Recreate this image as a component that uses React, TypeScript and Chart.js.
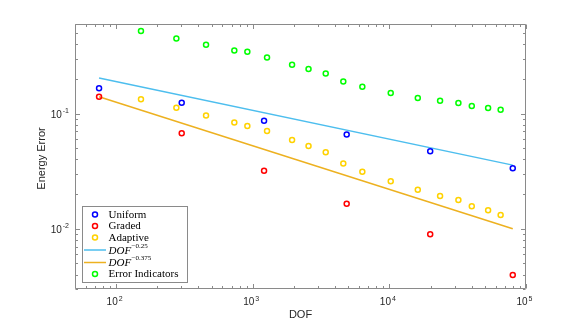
import React, { useEffect, useRef } from 'react';
import { Chart, registerables } from 'chart.js';

Chart.register(...registerables);

// ---------- data ----------
const uniformDOF = [75, 302, 1210, 4870, 19900, 80000];
const uniformErr = [0.166, 0.124, 0.0865, 0.0658, 0.0472, 0.0335];
const gradedDOF = [75, 302, 1210, 4870, 19900, 80000];
const gradedErr = [0.14, 0.0675, 0.0319, 0.0165, 0.00895, 0.00396];
const adaptiveDOF = [152, 276, 455, 733, 913, 1272, 1940, 2560, 3420, 4600, 6340, 10230, 16140, 23500, 32000, 40100, 52800, 65200];
const adaptiveErr = [0.1332, 0.1124, 0.0964, 0.0837, 0.0782, 0.0706, 0.0589, 0.0524, 0.0462, 0.0368, 0.0313, 0.0259, 0.0218, 0.0193, 0.0178, 0.0157, 0.01445, 0.0132];
const indicatorErr = [0.522, 0.45, 0.396, 0.353, 0.345, 0.307, 0.266, 0.244, 0.2234, 0.19, 0.171, 0.1513, 0.1368, 0.1295, 0.1237, 0.1163, 0.1117, 0.108];
const refDOF = [75, 80000];
const ref025 = [0.204, 0.0357];
const ref0375 = [0.14, 0.01];
const xMajorTicks = [100, 1000, 10000, 100000];
const xMajorExp = ['2', '3', '4', '5'];
const yMajorTicks = [0.01, 0.1];
const yMajorExp = ['-2', '-1'];
const legendLabels = ['Uniform', 'Graded', 'Adaptive', 'DOF', 'DOF', 'Error Indicators'];
const legendExps = ['', '', '', '\u22120.25', '\u22120.375', ''];

const X_MIN = 50;
const X_MAX = 100000;
const Y_MIN = 0.003;
const Y_MAX = 0.6;

const C_UNIFORM = '#0000FF';
const C_GRADED = '#FF0000';
const C_ADAPT = '#FFD200';
const C_IND = '#00FF00';
const C_L1 = '#4DBEEE';
const C_L2 = '#EDB120';
const AXIS = '#8a8a8a';
const TEXT = '#262626';
const SANS = '"Liberation Sans", Arial, Helvetica, sans-serif';
const SERIF = '"Liberation Serif", "Times New Roman", serif';

const pts = (xs: number[], ys: number[]) => xs.map((x, i) => ({ x, y: ys[i] }));

function minorValues(min: number, max: number): number[] {
  const out: number[] = [];
  const d0 = Math.floor(Math.log10(min));
  const d1 = Math.ceil(Math.log10(max));
  for (let d = d0; d <= d1; d++) {
    for (let m = 1; m <= 9; m++) {
      const v = m * Math.pow(10, d);
      if (v >= min * 0.9999 && v <= max * 1.0001) out.push(v);
    }
  }
  return out;
}

function drawPow(ctx: CanvasRenderingContext2D, x: number, y: number, exp: string, align: 'center' | 'right') {
  ctx.font = `10px ${SANS}`;
  const wb = ctx.measureText('10').width;
  ctx.font = `7px ${SANS}`;
  const we = ctx.measureText(exp).width;
  const gap = 1;
  const total = wb + gap + we;
  const x0 = align === 'center' ? x - total / 2 : x - total;
  ctx.fillStyle = TEXT;
  ctx.textAlign = 'left';
  ctx.textBaseline = 'alphabetic';
  ctx.font = `10px ${SANS}`;
  ctx.fillText('10', x0, y);
  ctx.font = `7px ${SANS}`;
  ctx.fillText(exp, x0 + wb + gap, y - 4.5);
}

const axesPlugin = {
  id: 'matlabAxes',
  beforeDatasetsDraw(chart: any) {
    const { ctx, chartArea, scales } = chart;
    const { left, right, top, bottom } = chartArea;
    const xs = scales.x;
    const ys = scales.y;
    ctx.save();
    ctx.strokeStyle = AXIS;
    ctx.lineWidth = 1;
    const L = Math.round(left) + 0.5;
    const R = Math.round(right) - 0.5;
    const T = Math.round(top) + 0.5;
    const B = Math.round(bottom) - 0.5;
    ctx.beginPath();
    ctx.rect(L, T, R - L, B - T);
    ctx.stroke();
    const majLen = 4.5;
    const minLen = 2.5;
    ctx.beginPath();
    // x ticks
    const xMinor = minorValues(X_MIN, X_MAX);
    xMinor.forEach((v) => {
      const isMaj = xMajorTicks.some((t) => Math.abs(t - v) / t < 1e-6);
      const len = isMaj ? majLen : minLen;
      const px = Math.round(xs.getPixelForValue(v)) + 0.5;
      ctx.moveTo(px, B);
      ctx.lineTo(px, B - len);
      ctx.moveTo(px, T);
      ctx.lineTo(px, T + len);
    });
    const yMinor = minorValues(Y_MIN, Y_MAX);
    yMinor.forEach((v) => {
      const isMaj = yMajorTicks.some((t) => Math.abs(t - v) / t < 1e-6);
      const len = isMaj ? majLen : minLen;
      const py = Math.round(ys.getPixelForValue(v)) + 0.5;
      ctx.moveTo(L, py);
      ctx.lineTo(L + len, py);
      ctx.moveTo(R, py);
      ctx.lineTo(R - len, py);
    });
    ctx.stroke();

    // tick labels
    xMajorTicks.forEach((v, i) => {
      const px = xs.getPixelForValue(v);
      drawPow(ctx, px - 1.5, bottom + 16, xMajorExp[i], 'center');
    });
    yMajorTicks.forEach((v, i) => {
      const py = ys.getPixelForValue(v);
      drawPow(ctx, left - 6, py + 4, yMajorExp[i], 'right');
    });

    // axis titles
    ctx.fillStyle = TEXT;
    ctx.font = `11px ${SANS}`;
    ctx.textAlign = 'center';
    ctx.textBaseline = 'alphabetic';
    ctx.fillText('DOF', (left + right) / 2, bottom + 29);
    ctx.save();
    ctx.translate(left - 30, (top + bottom) / 2 + 2);
    ctx.rotate(-Math.PI / 2);
    ctx.textBaseline = 'alphabetic';
    ctx.fillText('Energy Error', 0, 0);
    ctx.restore();
    ctx.restore();
  },
  afterDraw(chart: any) {
    const { ctx, data } = chart;
    ctx.save();
    const bx = 82.5, by = 206.5, bw = 105, bh = 76;
    ctx.fillStyle = '#ffffff';
    ctx.fillRect(bx, by, bw, bh);
    ctx.strokeStyle = AXIS;
    ctx.lineWidth = 1;
    ctx.strokeRect(bx, by, bw, bh);
    const rows = [214.5, 226, 237.5, 250, 262.5, 274];
    const order = [0, 1, 2, 3, 4, 5];
    order.forEach((di, i) => {
      const ds = data.datasets[di];
      const y = rows[i];
      if (ds.showLine) {
        ctx.strokeStyle = ds.borderColor;
        ctx.lineWidth = 1.5;
        ctx.beginPath();
        ctx.moveTo(84, y);
        ctx.lineTo(106, y);
        ctx.stroke();
      } else {
        ctx.strokeStyle = ds.pointBorderColor;
        ctx.lineWidth = 1.5;
        ctx.beginPath();
        ctx.arc(95, y, 2.5, 0, Math.PI * 2);
        ctx.stroke();
      }
      ctx.fillStyle = '#000000';
      ctx.textAlign = 'left';
      ctx.textBaseline = 'middle';
      const exp = legendExps[i];
      if (exp) {
        ctx.font = `italic 11px ${SERIF}`;
        ctx.fillText(legendLabels[i], 108.5, y + 1);
        const w = ctx.measureText(legendLabels[i]).width;
        ctx.font = `7px ${SERIF}`;
        ctx.fillText(exp, 108.5 + w + 0.5, y - 4);
      } else {
        ctx.font = `11px ${SERIF}`;
        ctx.fillText(legendLabels[i], 108.5, y + 0.5);
      }
    });
    ctx.restore();
  },
};

function markerSet(label: string, xs: number[], ys: number[], color: string) {
  return {
    label,
    data: pts(xs, ys),
    showLine: false,
    pointStyle: 'circle',
    pointRadius: 2.5,
    pointBorderWidth: 1.5,
    pointBorderColor: color,
    pointBackgroundColor: 'rgba(0,0,0,0)',
    borderColor: color,
    backgroundColor: 'rgba(0,0,0,0)',
  };
}

function lineSet(label: string, xs: number[], ys: number[], color: string) {
  return {
    label,
    data: pts(xs, ys),
    showLine: true,
    borderColor: color,
    borderWidth: 1.5,
    pointRadius: 0,
    backgroundColor: 'rgba(0,0,0,0)',
    fill: false,
    tension: 0,
  };
}

export default function App() {
  const ref = useRef<HTMLCanvasElement | null>(null);
  useEffect(() => {
    document.body.style.margin = '0';
    document.body.style.overflow = 'hidden';
    const canvas = ref.current;
    if (!canvas) return;
    const chart = new Chart(canvas, {
      type: 'scatter',
      data: {
        datasets: [
          markerSet('Uniform', uniformDOF, uniformErr, C_UNIFORM),
          markerSet('Graded', gradedDOF, gradedErr, C_GRADED),
          markerSet('Adaptive', adaptiveDOF, adaptiveErr, C_ADAPT),
          lineSet('DOF^-0.25', refDOF, ref025, C_L1),
          lineSet('DOF^-0.375', refDOF, ref0375, C_L2),
          markerSet('Error Indicators', adaptiveDOF, indicatorErr, C_IND),
        ] as any,
      },
      options: {
        responsive: false,
        animation: false,
        devicePixelRatio: 1,
        layout: { padding: { left: 75, right: 55, top: 24, bottom: 36 } },
        plugins: { legend: { display: false }, tooltip: { enabled: false }, title: { display: false } },
        scales: {
          x: { type: 'logarithmic', min: X_MIN, max: X_MAX, display: false },
          y: { type: 'logarithmic', min: Y_MIN, max: Y_MAX, display: false },
        },
      } as any,
      plugins: [axesPlugin as any],
    });
    return () => chart.destroy();
  }, []);
  return (
    <div style={{ width: 581, height: 325, background: '#ffffff' }}>
      <canvas ref={ref} width={581} height={325} style={{ display: 'block', width: 581, height: 325 }} />
    </div>
  );
}
